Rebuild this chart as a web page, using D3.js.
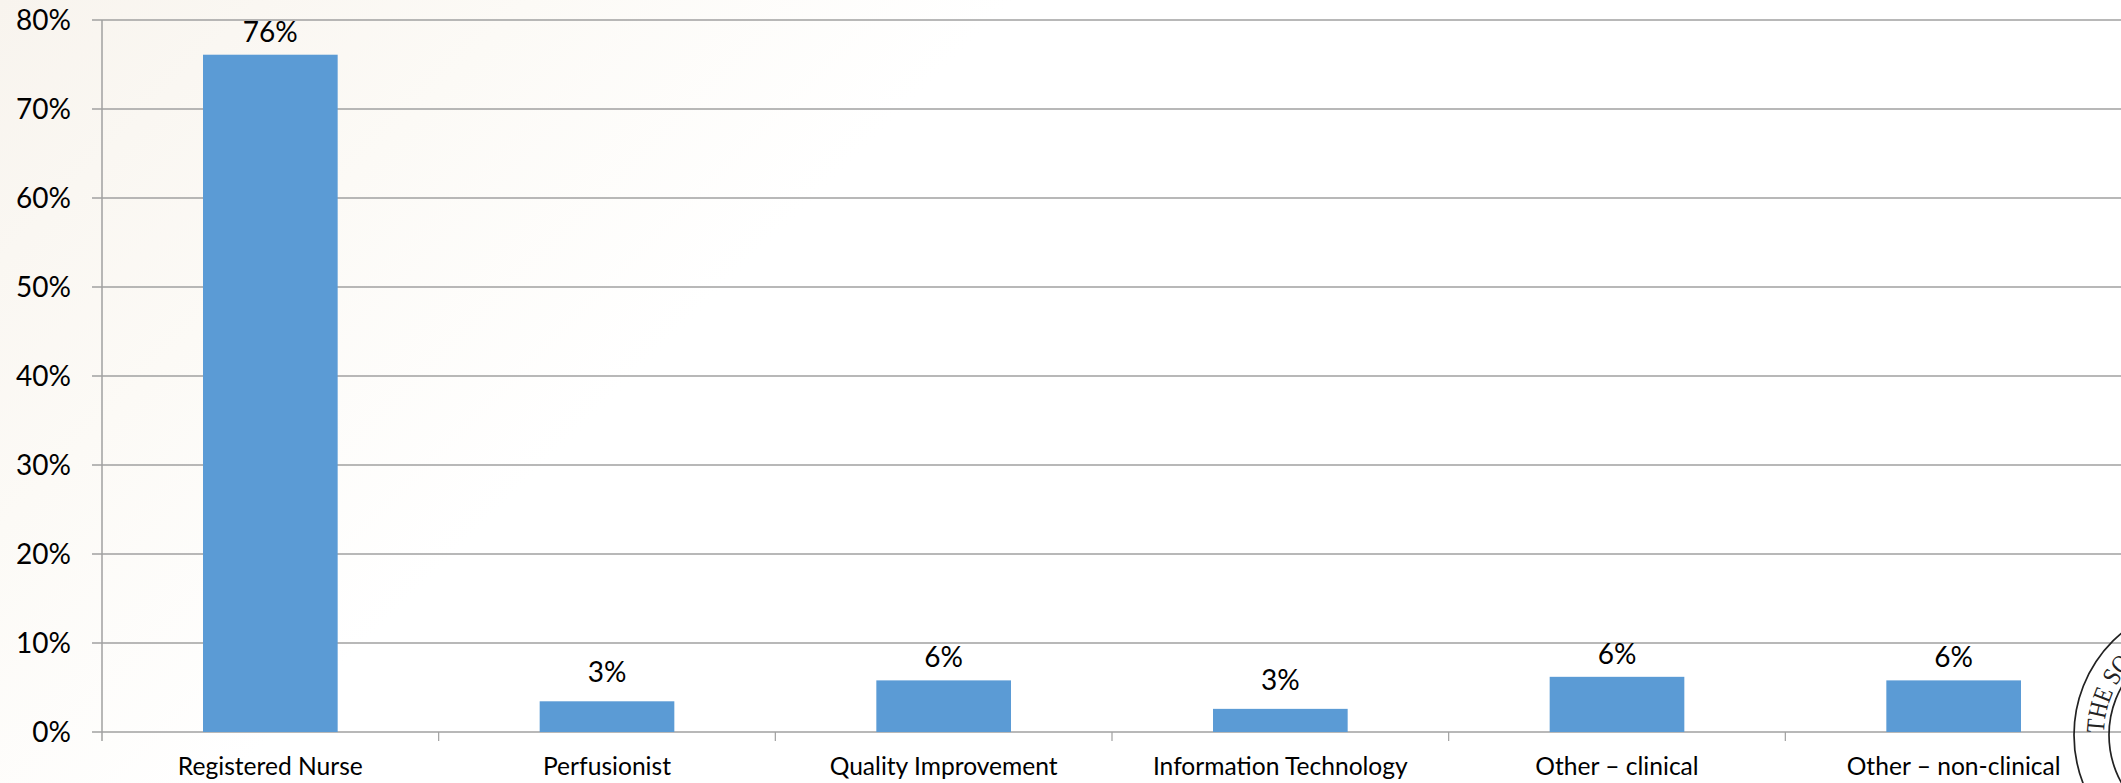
<!DOCTYPE html>
<html><head><meta charset="utf-8">
<script src="https://cdn.jsdelivr.net/npm/d3@7"></script>
<style>html,body{margin:0;padding:0;background:#fff}svg{display:block}</style></head>
<body><div id="c"></div>
<script>
const categories = ["Registered Nurse","Perfusionist","Quality Improvement","Information Technology","Other – clinical","Other – non-clinical"];
const values = [76.1,3.45,5.8,2.6,6.2,5.8];
const valueLabels = ["76%","3%","6%","3%","6%","6%"];
const yTicks = [0,10,20,30,40,50,60,70,80];

const W=2121,H=783;
const svg=d3.select("#c").append("svg").attr("width",W).attr("height",H);
const defs=svg.append("defs");
const g=defs.append("linearGradient").attr("id","bg").attr("x1",0).attr("y1",0).attr("x2",1).attr("y2",0.37);
g.append("stop").attr("offset",0).attr("stop-color","#f8f4ee");
g.append("stop").attr("offset",0.22).attr("stop-color","#fcfaf6");
g.append("stop").attr("offset",0.42).attr("stop-color","#ffffff");
g.append("stop").attr("offset",1).attr("stop-color","#ffffff");
svg.append("rect").attr("width",W).attr("height",H).attr("fill","url(#bg)");

const x=d3.scaleBand().domain(categories).range([102,2122]).paddingInner(0.6).paddingOuter(0.3);
const y=d3.scaleLinear().domain([0,80]).range([732,20]);
const grey="#a0a0a0";

svg.append("g").selectAll("line").data(yTicks).join("line")
 .attr("x1",92).attr("x2",W).attr("y1",d=>y(d)).attr("y2",d=>y(d))
 .attr("stroke",grey).attr("stroke-width",1.6);
svg.append("line").attr("x1",102).attr("x2",102).attr("y1",20).attr("y2",741).attr("stroke",grey).attr("stroke-width",1.5);

const step=x.step();
svg.append("g").selectAll("line").data(categories).join("line")
 .attr("x1",d=>x(d)+x.bandwidth()/2+step/2).attr("x2",d=>x(d)+x.bandwidth()/2+step/2)
 .attr("y1",732).attr("y2",741).attr("stroke",grey).attr("stroke-width",1.2);

svg.append("g").selectAll("rect").data(categories).join("rect")
 .attr("x",d=>x(d)).attr("width",x.bandwidth())
 .attr("y",(d,i)=>y(values[i])).attr("height",(d,i)=>y(0)-y(values[i]))
 .attr("fill","#5b9bd5");

const font="Lato, 'Open Sans', sans-serif";
svg.append("g").selectAll("text").data(yTicks).join("text")
 .attr("x",71).attr("y",d=>y(d)+10).attr("text-anchor","end")
 .attr("font-family",font).attr("font-size",28).attr("fill","#000")
 .text(d=>d+"%");
svg.append("g").selectAll("text").data(categories).join("text")
 .attr("x",d=>x(d)+x.bandwidth()/2).attr("y",775).attr("text-anchor","middle")
 .attr("font-family",font).attr("font-size",24.6).attr("fill","#000")
 .text(d=>d);
svg.append("g").selectAll("text").data(categories).join("text")
 .attr("x",d=>x(d)+x.bandwidth()/2).attr("y",(d,i)=>y(values[i])-(values[i]<5?19:13)).attr("text-anchor","middle")
 .attr("font-family",font).attr("font-size",28).attr("fill","#000")
 .text((d,i)=>valueLabels[i]);

// seal
const seal=svg.append("g").attr("fill","none").attr("stroke","#222");
seal.append("circle").attr("cx",2207).attr("cy",735).attr("r",133).attr("stroke-width",1.7);
seal.append("circle").attr("cx",2207).attr("cy",735).attr("r",98).attr("stroke-width",1.7);
defs.append("path").attr("id","sealPath").attr("d","M2104,733 A103,103 0 0 1 2207,632");
svg.append("text").attr("font-family","'Liberation Serif',serif").attr("font-size",26).attr("fill","#222")
 .append("textPath").attr("href","#sealPath").attr("textLength",142).attr("lengthAdjust","spacingAndGlyphs").text("THE SOCIETY");
</script></body></html>
